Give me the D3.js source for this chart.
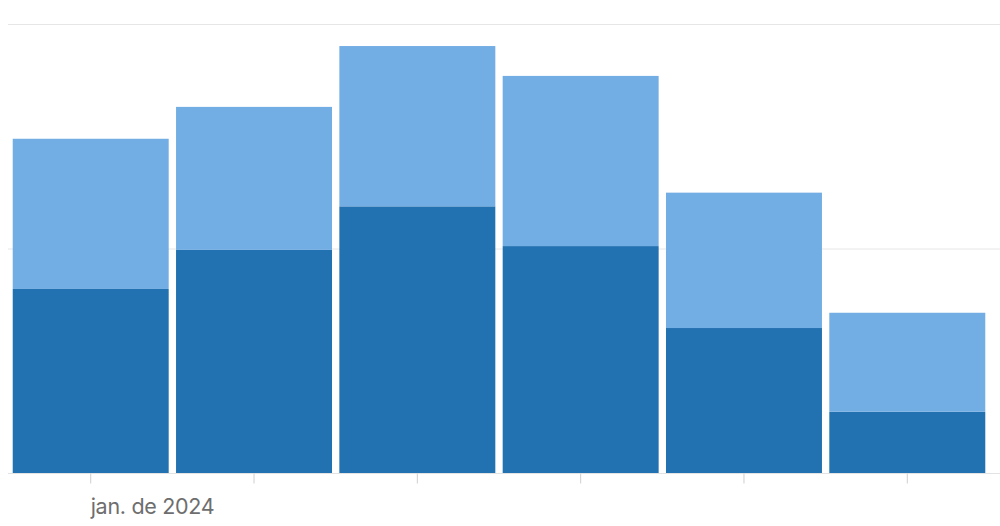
<!DOCTYPE html>
<html>
<head>
<meta charset="utf-8">
<script src="https://d3js.org/d3.v7.min.js"></script>
<style>
  body { margin: 0; background: #fff; }
</style>
</head>
<body>
<script>
// months shown on the x axis (only the first one carries a label)
const months = ["2024-01", "2024-02", "2024-03", "2024-04", "2024-05", "2024-06"];
const tickLabels = ["jan. de 2024", "", "", "", "", ""];

// two stacked series, bottom (dark) and top (light)
const seriesBottom = [82.2, 99.6, 119.0, 101.3, 64.8, 27.5];
const seriesTop = [66.9, 63.7, 71.4, 75.8, 60.3, 44.1];
const gridValues = [0, 100, 200];

const width = 1000, height = 526;

const svg = d3.select("body")
  .append("svg")
  .attr("width", width)
  .attr("height", height);

const x = d3.scaleBand()
  .domain(months)
  .range([9.05, 988.95])
  .paddingInner(0.045)
  .paddingOuter(0.0225);

const y = d3.scaleLinear()
  .domain([0, 200])
  .range([473.5, 24.5]);

// horizontal gridlines
svg.append("g")
  .selectAll("line")
  .data(gridValues.slice(1))
  .enter()
  .append("line")
  .attr("x1", 8)
  .attr("x2", width)
  .attr("y1", d => y(d))
  .attr("y2", d => y(d))
  .style("stroke", "#e6e6e6")
  .style("stroke-width", 1);

// stacked data
const rows = months.map((m, i) => ({ month: m, bottom: seriesBottom[i], top: seriesTop[i] }));
const stack = d3.stack().keys(["bottom", "top"])(rows);
const colors = { bottom: "#2271b0", top: "#72ade4" };

svg.append("g")
  .selectAll("g")
  .data(stack)
  .enter()
  .append("g")
  .style("fill", d => colors[d.key])
  .selectAll("rect")
  .data(d => d)
  .enter()
  .append("rect")
  .attr("x", d => x(d.data.month))
  .attr("width", x.bandwidth())
  .attr("y", d => y(d[1]))
  .attr("height", d => y(d[0]) - y(d[1]));

// baseline
svg.append("line")
  .attr("x1", 8)
  .attr("x2", width)
  .attr("y1", y(0))
  .attr("y2", y(0))
  .style("stroke", "#e3e3e3")
  .style("stroke-width", 1);

// x axis
const xAxis = svg.append("g")
  .attr("transform", `translate(0,${y(0)})`)
  .call(d3.axisBottom(x)
    .tickSize(10)
    .tickFormat((d, i) => tickLabels[i]));

xAxis.select(".domain").remove();
xAxis.selectAll(".tick line")
  .style("stroke", "#cfcfcf");
xAxis.selectAll(".tick text")
  .attr("text-anchor", "start")
  .attr("x", 0)
  .attr("y", 25)
  .style("font-family", "Inter, 'Noto Sans', sans-serif")
  .style("font-size", "21.5px")
  .style("letter-spacing", "-0.3px")
  .style("fill", "#6e6e6e");
</script>
</body>
</html>
